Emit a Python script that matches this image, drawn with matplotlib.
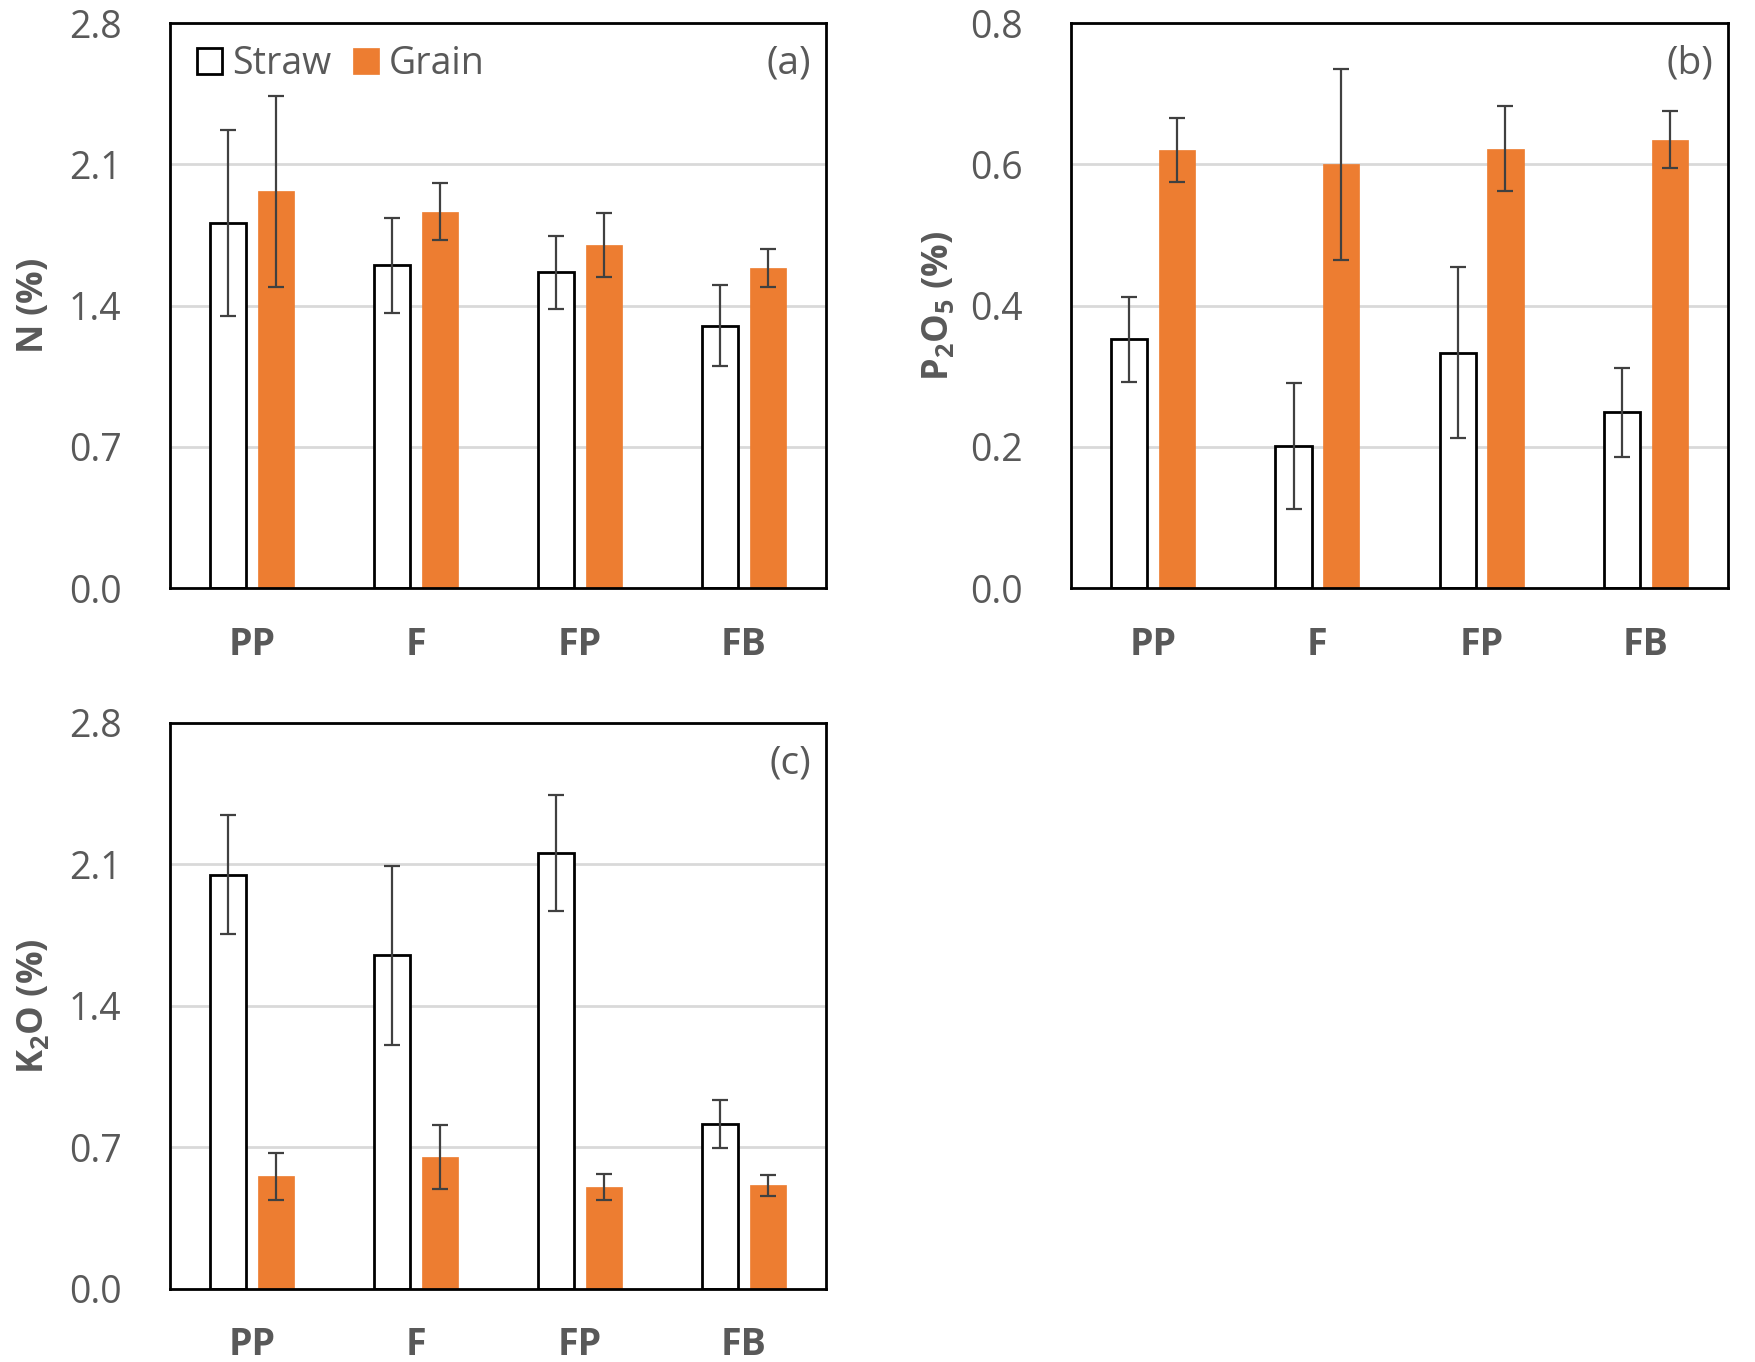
import matplotlib
matplotlib.use("Agg")
import matplotlib.pyplot as plt
import numpy as np

plt.rcParams['font.family'] = ['Open Sans', 'DejaVu Sans']
plt.rcParams['mathtext.fontset'] = 'custom'
plt.rcParams['mathtext.rm'] = 'Open Sans'
plt.rcParams['mathtext.bf'] = 'Open Sans:bold'

categories = ["PP", "F", "FP", "FB"]

n_straw = [1.81, 1.60, 1.565, 1.30]
n_straw_err = [0.46, 0.235, 0.18, 0.20]
n_grain = [1.965, 1.865, 1.70, 1.585]
n_grain_err = [0.475, 0.14, 0.16, 0.095]

p_straw = [0.352, 0.201, 0.333, 0.249]
p_straw_err = [0.060, 0.089, 0.121, 0.063]
p_grain = [0.620, 0.600, 0.622, 0.635]
p_grain_err = [0.045, 0.135, 0.060, 0.040]

k_straw = [2.05, 1.65, 2.155, 0.817]
k_straw_err = [0.295, 0.443, 0.287, 0.12]
k_grain = [0.557, 0.654, 0.503, 0.512]
k_grain_err = [0.115, 0.158, 0.065, 0.05]

panels = [
    dict(rect=[0.09687, 0.56828, 0.37379, 0.41483], straw=n_straw, se=n_straw_err,
         grain=n_grain, ge=n_grain_err, ymax=2.8, ticks=[0.0, 0.7, 1.4, 2.1, 2.8],
         ylabel=r'$\mathbf{N}$ $\mathbf{(\%)}$', letter='(a)', legend=True, ylx=-0.207),
    dict(rect=[0.61026, 0.56828, 0.37436, 0.41483], straw=p_straw, se=p_straw_err,
         grain=p_grain, ge=p_grain_err, ymax=0.8, ticks=[0.0, 0.2, 0.4, 0.6, 0.8],
         ylabel=r'$\mathbf{P_2O_5}$ $\mathbf{(\%)}$', letter='(b)', legend=False, ylx=-0.201),
    dict(rect=[0.09687, 0.05360, 0.37379, 0.41557], straw=k_straw, se=k_straw_err,
         grain=k_grain, ge=k_grain_err, ymax=2.8, ticks=[0.0, 0.7, 1.4, 2.1, 2.8],
         ylabel=r'$\mathbf{K_2O}$ $\mathbf{(\%)}$', letter='(c)', legend=False, ylx=-0.207),
]

GRAY = '#595959'
ORANGE = '#ED7D31'
ERR = '#404040'

fig = plt.figure(figsize=(17.55, 13.62), dpi=100)
x = np.arange(len(categories))
w = 0.22
off = 0.145

for p in panels:
    ax = fig.add_axes(p['rect'])
    ax.set_axisbelow(True)
    b1 = ax.bar(x - off, p['straw'], w, facecolor='white', edgecolor='black',
                linewidth=2.0, zorder=3, label='Straw')
    b2 = ax.bar(x + off, p['grain'], w, facecolor=ORANGE, edgecolor=ORANGE,
                linewidth=0.5, zorder=3, label='Grain')
    ax.errorbar(x - off, p['straw'], yerr=p['se'], fmt='none', ecolor=ERR,
                elinewidth=1.6, capsize=5.5, capthick=1.6, zorder=4)
    ax.errorbar(x + off, p['grain'], yerr=p['ge'], fmt='none', ecolor=ERR,
                elinewidth=1.6, capsize=5.5, capthick=1.6, zorder=4)
    ax.set_xlim(-0.5, len(categories) - 0.5)
    ax.set_ylim(0, p['ymax'])
    ax.set_yticks(p['ticks'])
    ax.set_yticklabels([f"{t:.1f}" for t in p['ticks']])
    ax.set_xticks(x)
    ax.set_xticklabels(categories, fontweight='bold')
    ax.tick_params(axis='y', length=0, pad=35, labelsize=27, labelcolor=GRAY)
    ax.tick_params(axis='x', length=0, pad=27, labelsize=27, labelcolor=GRAY)
    ax.yaxis.grid(True, color='#d9d9d9', linewidth=2.0)
    for s in ax.spines.values():
        s.set_linewidth(2.0)
        s.set_color('black')
        s.set_zorder(5)
    ax.text(p['ylx'], 0.5, p['ylabel'], transform=ax.transAxes, rotation=90,
            ha='center', va='center', fontsize=26, color=GRAY, fontweight='bold')
    ax.text(0.977, 0.929, p['letter'], transform=ax.transAxes, ha='right',
            va='center', fontsize=28, color=GRAY)
    if p['legend']:
        leg = ax.legend(handles=[b1, b2], loc='center left', bbox_to_anchor=(0.041, 0.927),
                        ncol=2, frameon=False, fontsize=27, handlelength=0.67,
                        handleheight=0.67, handletextpad=0.27, columnspacing=0.59,
                        borderpad=0, borderaxespad=0, labelcolor=GRAY)

fig.savefig("out.png", dpi=100)
